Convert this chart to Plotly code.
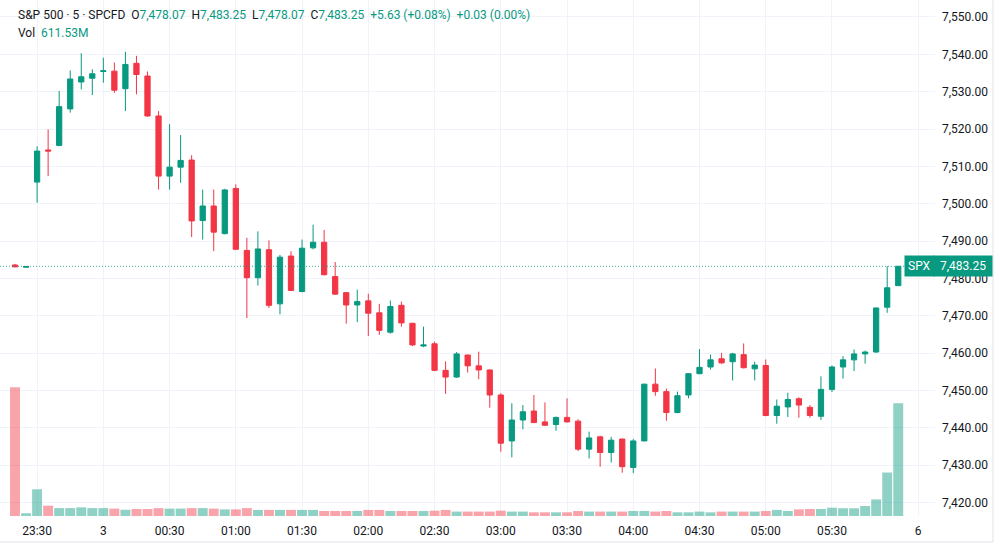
import plotly.graph_objects as go

# ---------------- data ----------------
opens = [7483.6, 7483.0, 7505.8, 7514.4, 7515.6, 7525.4, 7532.6, 7533.6, 7535.4, 7535.5,
         7530.8, 7537.6, 7534.2, 7523.5, 7507.4, 7509.8, 7511.7, 7495.5, 7499.4, 7492.0,
         7504.1, 7487.5, 7480.2, 7487.7, 7473.2, 7486.0, 7476.5, 7488.2, 7489.7, 7480.5,
         7476.2, 7472.9, 7474.0, 7470.8, 7465.6, 7472.8, 7468.0, 7461.9, 7462.5, 7455.4,
         7453.6, 7459.5, 7456.6, 7455.5, 7448.8, 7436.5, 7442.1, 7444.5, 7441.6, 7440.9,
         7442.8, 7441.8, 7434.3, 7437.6, 7433.4, 7437.0, 7429.4, 7436.5, 7451.7, 7449.7,
         7444.1, 7448.8, 7454.5, 7456.3, 7458.5, 7457.7, 7459.6, 7455.8, 7456.7, 7443.3,
         7445.6, 7447.8, 7445.5, 7443.1, 7450.3, 7456.3, 7458.2, 7459.8, 7460.3, 7472.3,
         7478.07]
highs = [7483.9, 7483.3, 7515.4, 7519.9, 7530.2, 7535.7, 7540.3, 7536.0, 7539.1, 7537.8,
         7540.7, 7539.6, 7535.4, 7524.8, 7521.3, 7518.4, 7513.0, 7503.8, 7503.8, 7504.0,
         7505.2, 7490.9, 7492.6, 7490.2, 7486.3, 7487.3, 7490.4, 7494.4, 7493.0, 7484.4,
         7476.3, 7477.0, 7475.9, 7473.2, 7474.1, 7473.8, 7468.1, 7467.1, 7463.1, 7457.8,
         7460.3, 7459.6, 7460.4, 7455.6, 7449.3, 7446.6, 7446.1, 7448.8, 7446.8, 7443.0,
         7447.9, 7442.3, 7439.0, 7437.9, 7437.6, 7437.1, 7437.0, 7451.8, 7455.9, 7450.5,
         7449.7, 7454.6, 7461.1, 7459.6, 7460.1, 7460.1, 7462.6, 7457.7, 7458.3, 7447.6,
         7449.4, 7448.2, 7446.1, 7453.8, 7456.7, 7459.2, 7461.0, 7460.7, 7472.2, 7483.3,
         7483.25]
lows = [7483.0, 7482.9, 7500.3, 7507.4, 7515.4, 7524.4, 7530.6, 7529.1, 7532.4, 7529.7,
        7524.8, 7529.3, 7523.3, 7503.8, 7503.8, 7505.6, 7491.1, 7490.4, 7487.3, 7491.8,
        7487.6, 7469.4, 7478.1, 7472.1, 7470.4, 7476.6, 7476.3, 7487.8, 7480.8, 7475.6,
        7467.9, 7468.3, 7464.6, 7464.9, 7465.2, 7467.1, 7461.9, 7461.6, 7455.2, 7449.1,
        7453.4, 7454.8, 7453.0, 7445.4, 7433.6, 7432.1, 7439.6, 7441.3, 7440.5, 7439.2,
        7441.4, 7433.8, 7431.8, 7429.6, 7430.7, 7428.0, 7427.9, 7436.4, 7448.6, 7441.9,
        7443.9, 7447.9, 7454.4, 7455.6, 7457.1, 7452.7, 7455.9, 7452.7, 7443.1, 7441.1,
        7442.9, 7442.7, 7442.7, 7442.1, 7449.6, 7453.2, 7455.2, 7457.2, 7460.1, 7470.8,
        7478.07]
closes = [7483.1, 7483.2, 7514.1, 7514.1, 7526.0, 7533.4, 7534.0, 7534.8, 7535.6, 7530.4,
          7537.3, 7534.6, 7523.5, 7507.4, 7509.8, 7511.6, 7495.4, 7499.4, 7492.4, 7503.7,
          7487.8, 7480.2, 7487.9, 7472.8, 7485.7, 7476.8, 7488.1, 7489.7, 7481.0, 7475.8,
          7472.9, 7473.8, 7470.7, 7466.1, 7472.5, 7468.1, 7462.2, 7462.2, 7455.4, 7453.6,
          7459.8, 7456.6, 7455.5, 7448.8, 7435.9, 7442.1, 7444.3, 7441.4, 7440.7, 7442.8,
          7441.6, 7434.3, 7437.3, 7433.4, 7436.7, 7429.6, 7436.5, 7451.7, 7449.7, 7444.1,
          7448.6, 7454.5, 7456.2, 7458.2, 7457.4, 7459.8, 7456.1, 7456.8, 7443.3, 7445.8,
          7447.6, 7446.1, 7443.3, 7450.3, 7456.3, 7458.2, 7459.8, 7460.3, 7472.1, 7477.5,
          7483.25]
volumes_m = [699, 15, 145, 56, 43, 43, 47, 43, 43, 40,
             34, 38, 38, 43, 40, 40, 43, 43, 40, 36,
             36, 43, 33, 33, 33, 33, 33, 33, 27, 27,
             27, 27, 33, 33, 27, 27, 27, 27, 29, 33,
             24, 24, 24, 24, 29, 24, 24, 20, 20, 20,
             20, 27, 24, 24, 24, 24, 27, 27, 24, 27,
             20, 20, 24, 20, 24, 24, 24, 24, 27, 33,
             27, 36, 38, 38, 45, 42, 42, 54, 90, 236,
             611.53]

tick_index = [2, 8, 14, 20, 26, 32, 38, 44, 50, 56, 62, 68, 74, 81.8]
tick_text = ["23:30", "3", "00:30", "01:00", "01:30", "02:00", "02:30", "03:00",
             "03:30", "04:00", "04:30", "05:00", "05:30", "6"]

symbol_title = "S&P 500 · 5 · SPCFD"
ohlc_labels = ["O", "H", "L", "C"]
ohlc_values = ["7,478.07", "7,483.25", "7,478.07", "7,483.25"]
changes = ["+5.63 (+0.08%)", "+0.03 (0.00%)"]
vol_text = "611.53M"
last_price = 7483.25
# -------------------------------------

UP = "#089981"
DN = "#F23645"
UP_V = "rgba(8,153,129,0.45)"
DN_V = "rgba(242,54,69,0.45)"
TXT = "#131722"
GRID = "#f0f3fa"
FONT = "Roboto, 'Noto Sans', sans-serif"

x = list(range(len(opens)))
vcolors = [UP_V if c >= o else DN_V for o, c in zip(opens, closes)]

fig = go.Figure()
fig.add_trace(go.Bar(x=x, y=volumes_m, marker=dict(color=vcolors, line=dict(width=0)),
                     yaxis="y2", hoverinfo="skip", showlegend=False))
fig.add_trace(go.Candlestick(
    x=x, open=opens, high=highs, low=lows, close=closes,
    increasing=dict(line=dict(color=UP, width=1), fillcolor=UP),
    decreasing=dict(line=dict(color=DN, width=1), fillcolor=DN),
    whiskerwidth=0, showlegend=False, yaxis="y"))

W, H = 1000, 545
L, R, T, B = 0, 65, 0, 29
pw, ph = W - L - R, H - T - B

def px(xp):
    return (xp - L) / pw

def py(yp):
    return 1 - (yp - T) / ph

fig.update_layout(
    width=W, height=H,
    margin=dict(l=L, r=R, t=T, b=B),
    paper_bgcolor="white", plot_bgcolor="white",
    bargap=0.1, boxgap=0.32,
    font=dict(family=FONT, size=12, color=TXT),
    xaxis=dict(range=[-1.36, 83.33], tickmode="array", tickvals=tick_index, ticktext=tick_text,
               showgrid=True, gridcolor=GRID, gridwidth=1, zeroline=False, showline=False,
               ticks="", rangeslider=dict(visible=False), tickfont=dict(size=12, color=TXT),
               ticklabelstandoff=6, fixedrange=True),
    yaxis=dict(range=[7416.4, 7554.55], side="right", dtick=10, tick0=7400, tickformat=",.2f",
               showgrid=True, gridcolor=GRID, gridwidth=1, zeroline=False, showline=False,
               ticks="", tickfont=dict(size=12, color=TXT), ticklabelstandoff=6),
    yaxis2=dict(range=[0, 611.53 * ph / 112.7], overlaying="y", visible=False, fixedrange=True),
)

# last price dotted line
fig.add_shape(type="line", xref="paper", yref="y", x0=0, x1=1, y0=last_price, y1=last_price,
              line=dict(color="rgba(8,153,129,0.8)", width=1, dash="1px,2px"), layer="above")

# outer frame lines (right & bottom)
fig.add_shape(type="line", xref="paper", yref="paper", x0=px(993), x1=px(993), y0=py(0), y1=py(542),
              line=dict(color="#e0e3eb", width=1))
fig.add_shape(type="line", xref="paper", yref="paper", x0=px(0), x1=px(993), y0=py(542), y1=py(542),
              line=dict(color="#e0e3eb", width=1))

# price labels at right
fig.add_annotation(xref="paper", yref="y", x=px(904), y=last_price, xanchor="left", yanchor="middle",
                   text="SPX", showarrow=False, bgcolor=UP, font=dict(color="white", size=12, family=FONT),
                   borderpad=3)
fig.add_annotation(xref="paper", yref="y", x=px(933), y=last_price, xanchor="left", yanchor="middle",
                   text="\u00a07,483.25\u00a0", showarrow=False, bgcolor=UP,
                   font=dict(color="white", size=12, family=FONT), borderpad=3)

# header legend (single line, non-breaking spaces keep gaps)
g = lambda s: f"<span style='color:{UP}'>{s}</span>"
sep = "\u00a0\u00a0"
parts = [symbol_title] + [lab + g(val) for lab, val in zip(ohlc_labels, ohlc_values)] + [g(c) for c in changes]
line1 = sep.join(parts)
fig.add_annotation(xref="paper", yref="paper", x=px(16), y=py(15), xanchor="left", yanchor="middle",
                   text=line1, showarrow=False, font=dict(color=TXT, size=12, family=FONT))
fig.add_annotation(xref="paper", yref="paper", x=px(16), y=py(33), xanchor="left", yanchor="middle",
                   text="Vol" + sep + g(vol_text), showarrow=False, font=dict(color=TXT, size=12, family=FONT))

fig.write_html("out.html")
